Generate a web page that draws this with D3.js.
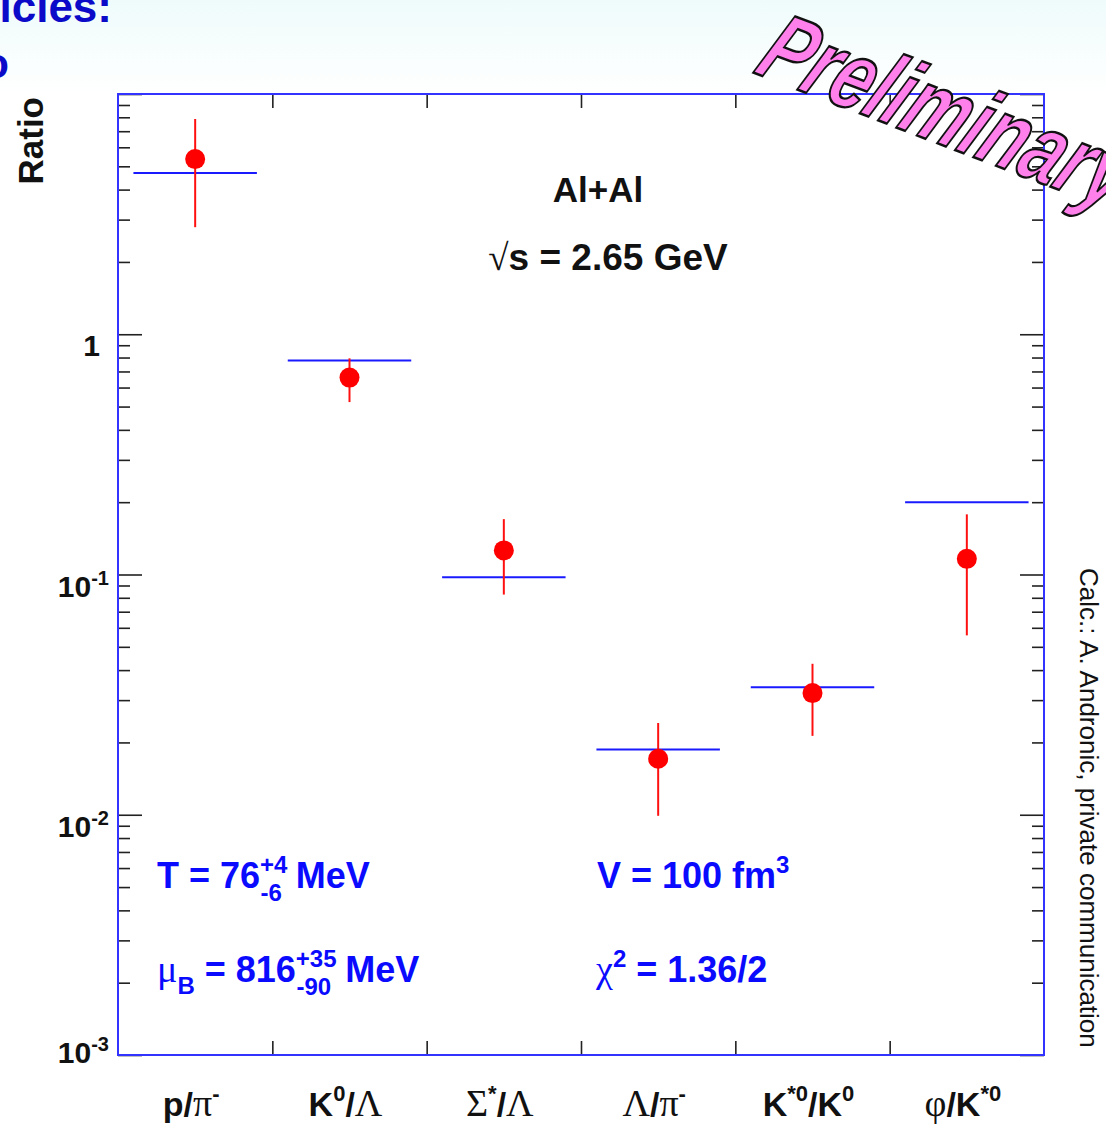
<!DOCTYPE html>
<html>
<head>
<meta charset="utf-8">
<script src="https://cdn.jsdelivr.net/npm/d3@7"></script>
<style>
  html, body { margin: 0; padding: 0; background: #fff; }
  svg { display: block; font-family: "Liberation Sans", Arial, sans-serif; }
</style>
</head>
<body>
<div id="chart"></div>
<script>
// particle ratios
var categories = ["p/π-", "K0/Λ", "Σ*/Λ", "Λ/π-", "K*0/K0", "φ/K*0"];
var measured = [5.36, 0.66, 0.126, 0.0171, 0.0321, 0.1162];
var errHigh  = [7.87, 0.794, 0.170, 0.0241, 0.0425, 0.178];
var errLow   = [2.79, 0.522, 0.0825, 0.0099, 0.0213, 0.0558];
var model    = [4.69, 0.777, 0.0974, 0.0187, 0.0339, 0.200];

// tick labels
var yMajor = [1e-3, 1e-2, 1e-1, 1];
var yMajorLabels = [["10", "-3"], ["10", "-2"], ["10", "-1"], ["1", ""]];
// category label pieces: [text, kind]  b = bold sans, g = greek (symbol), sup = superscript
var categoryLabelParts = [
    [["p/", "b"], ["π", "g"], ["-", "sup"]],
    [["K", "b"], ["0", "sup"], ["/", "b"], ["Λ", "g"]],
    [["Σ", "g"], ["*", "sup"], ["/", "b"], ["Λ", "g"]],
    [["Λ", "g"], ["/", "b"], ["π", "g"], ["-", "sup"]],
    [["K", "b"], ["*0", "sup"], ["/K", "b"], ["0", "sup"]],
    [["φ", "g"], ["/K", "b"], ["*0", "sup"]]
];

(function () {
    "use strict";
    var width = 1106, height = 1126;
    var plotLeft = 118, plotRight = 1044, plotTop = 94, plotBottom = 1055;
    var serif = "'Liberation Serif', 'DejaVu Serif', serif";

    var svg = d3.select("#chart").append("svg")
        .attr("width", width)
        .attr("height", height);

    // faint slide tint at the top
    var defs = svg.append("defs");
    var grad = defs.append("linearGradient").attr("id", "tint")
        .attr("x1", 0).attr("y1", 0).attr("x2", 0).attr("y2", 1);
    grad.append("stop").attr("offset", "0%").attr("stop-color", "#effbfb");
    grad.append("stop").attr("offset", "100%").attr("stop-color", "#ffffff");
    svg.append("rect").attr("width", width).attr("height", 95).attr("fill", "url(#tint)");

    // slide title leftovers (cut off at the page edge)
    svg.append("text").attr("x", 112).attr("y", 22)
        .attr("text-anchor", "end")
        .attr("font-size", 44).attr("font-weight", "bold").attr("fill", "#0a0ac8")
        .text("articles:");
    svg.append("text").attr("x", 9).attr("y", 78)
        .attr("text-anchor", "end")
        .attr("font-size", 42).attr("font-weight", "bold").attr("fill", "#0a0ac8")
        .text("to");

    //Scales
    var x = d3.scaleBand().domain(categories).range([plotLeft, plotRight]).padding(0);
    var xIdx = d3.scaleLinear().domain([0, categories.length]).range([plotLeft, plotRight]);
    var y = d3.scaleLog().domain([1e-3, 10]).range([plotBottom, plotTop]);

    var minor = [];
    [-3, -2, -1, 0].forEach(function (e) {
        for (var m = 2; m <= 9; m++) minor.push(m * Math.pow(10, e));
    });

    function styleAxis(g) {
        g.select(".domain").remove();
        g.selectAll(".tick line").attr("stroke", "#222").attr("stroke-width", 1.6);
        g.selectAll(".tick text").remove();
    }

    //Y axes (ticks pointing inward)
    svg.append("g").attr("transform", "translate(" + plotLeft + ",0)")
        .call(d3.axisLeft(y).tickValues(yMajor.concat([10])).tickSize(-24).tickFormat(""))
        .call(styleAxis);
    svg.append("g").attr("transform", "translate(" + plotLeft + ",0)")
        .call(d3.axisLeft(y).tickValues(minor).tickSize(-12).tickFormat(""))
        .call(styleAxis);
    svg.append("g").attr("transform", "translate(" + plotRight + ",0)")
        .call(d3.axisRight(y).tickValues(yMajor.concat([10])).tickSize(-24).tickFormat(""))
        .call(styleAxis);
    svg.append("g").attr("transform", "translate(" + plotRight + ",0)")
        .call(d3.axisRight(y).tickValues(minor).tickSize(-12).tickFormat(""))
        .call(styleAxis);

    //X axes: ticks at the category boundaries
    var bounds = d3.range(1, categories.length);
    svg.append("g").attr("transform", "translate(0," + plotBottom + ")")
        .call(d3.axisBottom(xIdx).tickValues(bounds).tickSize(-14).tickFormat(""))
        .call(styleAxis);
    svg.append("g").attr("transform", "translate(0," + plotTop + ")")
        .call(d3.axisTop(xIdx).tickValues(bounds).tickSize(-14).tickFormat(""))
        .call(styleAxis);

    //Frame
    svg.append("rect")
        .attr("x", plotLeft).attr("y", plotTop)
        .attr("width", plotRight - plotLeft).attr("height", plotBottom - plotTop)
        .attr("fill", "none").attr("stroke", "#3333ff").attr("stroke-width", 2);

    //Y tick labels
    yMajor.forEach(function (v, i) {
        var lab = yMajorLabels[i];
        var off = v === 1e-3 ? 8 : 22;
        var t = svg.append("text")
            .attr("x", lab[1] ? 109 : 100)
            .attr("y", y(v) + off)
            .attr("text-anchor", "end")
            .attr("font-size", 30).attr("font-weight", "bold").attr("fill", "#111");
        t.append("tspan").text(lab[0]);
        if (lab[1]) {
            t.append("tspan").attr("dy", -12).attr("font-size", 20).text(lab[1]);
        }
    });

    //Y title
    svg.append("text")
        .attr("transform", "translate(43,97) rotate(-90)")
        .attr("text-anchor", "end")
        .attr("font-size", 35).attr("font-weight", "bold").attr("fill", "#111")
        .text("Ratio");

    //Category labels
    categories.forEach(function (c, i) {
        var t = svg.append("text")
            .attr("x", x(c) + x.bandwidth() / 2 - 4)
            .attr("y", 1116)
            .attr("text-anchor", "middle")
            .attr("font-size", 34).attr("fill", "#111");
        var raised = false;
        categoryLabelParts[i].forEach(function (p) {
            var s = t.append("tspan").text(p[0]);
            if (p[1] === "sup") {
                s.attr("font-size", 22).attr("font-weight", "bold");
                if (!raised) { s.attr("dy", -15); raised = true; }
            } else {
                if (raised) { s.attr("dy", 15); raised = false; }
                if (p[1] === "g") {
                    s.attr("font-family", serif).attr("font-size", 38)
                        .attr("font-weight", "normal");
                } else {
                    s.attr("font-weight", "bold");
                }
            }
        });
    });

    //Model (horizontal lines)
    var bw = x.bandwidth();
    svg.append("g").selectAll("line")
        .data(categories)
        .enter().append("line")
        .attr("x1", function (d) { return x(d) + 0.1 * bw; })
        .attr("x2", function (d) { return x(d) + 0.9 * bw; })
        .attr("y1", function (d, i) { return y(model[i]); })
        .attr("y2", function (d, i) { return y(model[i]); })
        .attr("stroke", "#1a1aff").attr("stroke-width", 2);

    //Error bars
    svg.append("g").selectAll("line")
        .data(categories)
        .enter().append("line")
        .attr("x1", function (d) { return x(d) + bw / 2; })
        .attr("x2", function (d) { return x(d) + bw / 2; })
        .attr("y1", function (d, i) { return y(errHigh[i]); })
        .attr("y2", function (d, i) { return y(errLow[i]); })
        .attr("stroke", "#ff1010").attr("stroke-width", 2);

    //Measured points
    svg.append("g").selectAll("circle")
        .data(categories)
        .enter().append("circle")
        .attr("cx", function (d) { return x(d) + bw / 2; })
        .attr("cy", function (d, i) { return y(measured[i]); })
        .attr("r", 10)
        .attr("fill", "#ff0000");

    //System annotation
    svg.append("text").attr("x", 598).attr("y", 202)
        .attr("text-anchor", "middle")
        .attr("font-size", 35).attr("font-weight", "bold").attr("fill", "#111")
        .text("Al+Al");
    var sq = svg.append("text").attr("x", 608).attr("y", 270)
        .attr("text-anchor", "middle")
        .attr("font-size", 37).attr("font-weight", "bold").attr("fill", "#111");
    sq.append("tspan").attr("font-family", serif)
        .attr("font-weight", "normal").text("√");
    sq.append("tspan").text("s = 2.65 GeV");

    //Fit parameters
    var blue = "#0a0aff";
    function fitText(xp, yp) {
        return svg.append("text").attr("x", xp).attr("y", yp)
            .attr("font-size", 36).attr("font-weight", "bold").attr("fill", blue);
    }
    var tT = fitText(157, 888);
    tT.append("tspan").text("T = 76");
    tT.append("tspan").attr("font-size", 24).attr("dy", -15).text("+4");
    tT.append("tspan").attr("font-size", 24).attr("dx", -27).attr("dy", 28).text("-6");
    tT.append("tspan").attr("dx", 4).attr("dy", -13).text(" MeV");

    var tM = fitText(157, 982);
    tM.append("tspan").attr("font-family", serif)
        .attr("font-weight", "normal").attr("font-size", 38).text("μ");
    tM.append("tspan").attr("font-size", 24).attr("dy", 12).text("B");
    tM.append("tspan").attr("dy", -12).text(" = 816");
    tM.append("tspan").attr("font-size", 24).attr("dy", -15).text("+35");
    tM.append("tspan").attr("font-size", 24).attr("dx", -40).attr("dy", 28).text("-90");
    tM.append("tspan").attr("dx", 4).attr("dy", -13).text(" MeV");

    var tV = fitText(597, 888);
    tV.append("tspan").text("V = 100 fm");
    tV.append("tspan").attr("font-size", 24).attr("dy", -15).text("3");

    var tC = fitText(596, 982);
    tC.append("tspan").attr("font-family", serif)
        .attr("font-weight", "normal").attr("font-size", 38).text("χ");
    tC.append("tspan").attr("font-size", 24).attr("dy", -15).text("2");
    tC.append("tspan").attr("dy", 15).text(" = 1.36/2");

    //Credit on the right
    svg.append("text")
        .attr("transform", "translate(1080,568) rotate(90)")
        .attr("font-size", 26).attr("fill", "#111")
        .text("Calc.: A. Andronic, private communication");

    //Preliminary stamp
    svg.append("text")
        .attr("transform", "translate(752,72) rotate(21) skewX(-8)")
        .attr("font-size", 98).attr("font-weight", "bold").attr("font-style", "italic")
        .attr("fill", "#ff80ea").attr("stroke", "#111").attr("stroke-width", 2.5)
        .attr("textLength", 385).attr("lengthAdjust", "spacingAndGlyphs")
        .text("Preliminary");
})();
</script>
</body>
</html>
